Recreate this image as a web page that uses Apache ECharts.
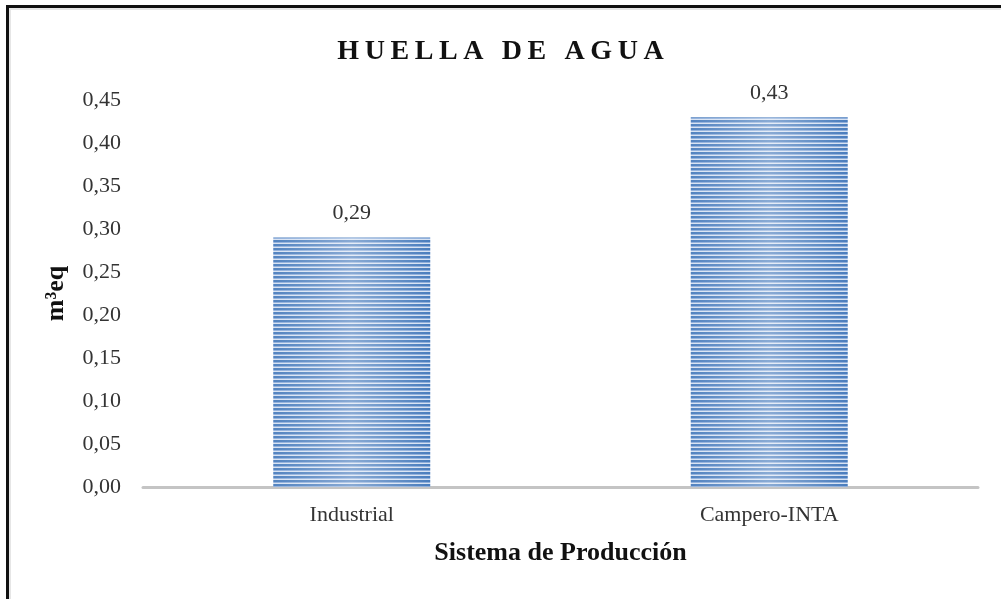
<!DOCTYPE html>
<html>
<head>
<meta charset="utf-8">
<script src="https://cdn.jsdelivr.net/npm/echarts@6/dist/echarts.min.js"></script>
<style>
html,body{margin:0;padding:0;background:#fff}
#wrap{position:relative;width:1001px;height:599px;overflow:hidden}
#chart{position:absolute;left:0;top:0;width:1001px;height:599px}
#frame{position:absolute;left:6px;top:5px;width:1000px;height:591px;
  border-left:3px solid #111;border-top:3px solid #111;border-bottom:2px solid #e4e4e4;
  box-shadow:inset 2px 2px 0 #e6e6e6;pointer-events:none}
</style>
</head>
<body>
<div id="wrap">
  <div id="chart"></div>
  <div id="frame"></div>
</div>
<script>
// datos
var categorias = ["Industrial", "Campero-INTA"]
var huella = [0.29, 0.43]
var ejeY = [0, 0.05, 0.10, 0.15, 0.20, 0.25, 0.30, 0.35, 0.40, 0.45]

function coma(v){ return v.toFixed(2).replace(".", ",") }

// rayado horizontal de las barras
var pc = document.createElement("canvas")
pc.width = 4; pc.height = 4
var ctx = pc.getContext("2d")
ctx.fillStyle = "#4a7dbd"; ctx.fillRect(0, 0, 4, 2)
ctx.fillStyle = "#8eaedb"; ctx.fillRect(0, 2, 4, 1)
ctx.fillStyle = "#d7e2f2"; ctx.fillRect(0, 3, 4, 1)

var serif = "'Liberation Serif', 'DejaVu Serif', serif"
var myChart = echarts.init(document.getElementById("chart"))
var option = {
    backgroundColor: "#fff",
    animation: false,
    title: {
        text: "H\u2009U\u2009E\u2009L\u2009L\u2009A\u2009 \u2009D\u2009E\u2009 \u2009A\u2009G\u2009U\u2009A",
        left: "center",
        top: 33,
        textStyle: { fontFamily: serif, fontSize: 28, fontWeight: "bold", color: "#111" }
    },
    grid: { left: 143, right: 23, top: 100, bottom: 112 },
    xAxis: {
        type: "category",
        data: categorias,
        name: "Sistema de Producción",
        nameLocation: "middle",
        nameGap: 53,
        nameTextStyle: { fontFamily: serif, fontSize: 26, fontWeight: "bold", color: "#111" },
        axisLine: { lineStyle: { color: "#c4c4c4", width: 3 } },
        axisTick: { show: false },
        axisLabel: { fontFamily: serif, fontSize: 22, color: "#333", margin: 17 }
    },
    yAxis: {
        type: "value",
        min: 0,
        max: 0.45,
        interval: 0.05,
        name: "m³eq",
        nameLocation: "middle",
        nameGap: 74,
        nameTextStyle: { fontFamily: serif, fontSize: 26, fontWeight: "bold", color: "#111" },
        axisLine: { show: false },
        axisTick: { show: false },
        splitLine: { show: false },
        axisLabel: {
            fontFamily: serif, fontSize: 22, color: "#333", margin: 22,
            formatter: function(v){
                var t = ejeY.find(function(e){ return Math.abs(e - v) < 1e-9 })
                return coma(t === undefined ? v : t)
            }
        }
    },
    series: [
        {
            type: "bar",
            data: huella,
            barWidth: "37.6%",
            itemStyle: { color: { image: pc, repeat: "repeat" } },
            label: {
                show: true, position: "top", distance: 13,
                fontFamily: serif, fontSize: 22, color: "#333",
                formatter: function(p){ return coma(p.value) }
            }
        },
        {
            type: "bar",
            data: huella,
            barWidth: "37.6%",
            barGap: "-100%",
            silent: true,
            itemStyle: {
                color: new echarts.graphic.LinearGradient(0, 0, 1, 0, [
                    { offset: 0, color: "rgba(255,255,255,0.05)" },
                    { offset: 0.5, color: "rgba(255,255,255,0.35)" },
                    { offset: 1, color: "rgba(255,255,255,0.0)" }
                ])
            }
        }
    ]
}
myChart.setOption(option)
</script>
</body>
</html>
